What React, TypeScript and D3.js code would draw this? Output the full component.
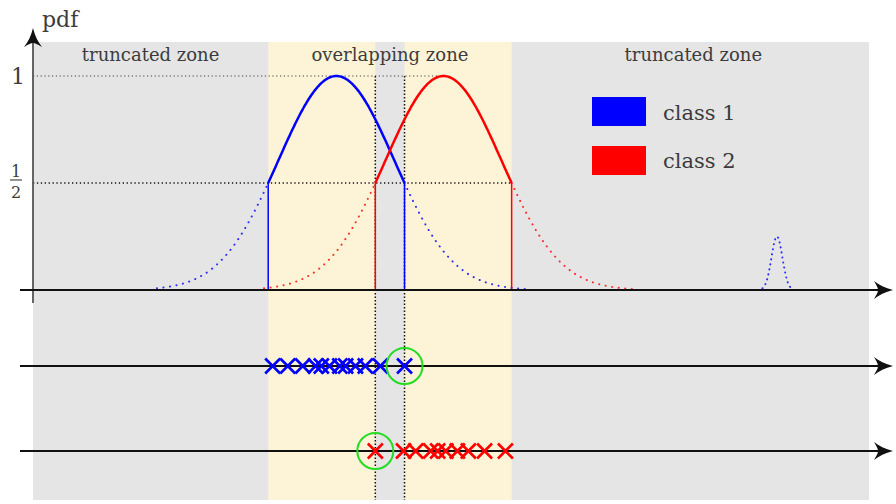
import React from "react";
import * as d3 from "d3";

// Two truncated Gaussian class densities (unit sigma), plus a narrow far bump
const classMeans = [0, 1.85];
const sigma = 1;
const halfMaxWidth = Math.sqrt(2 * Math.log(2)); // truncation at pdf = 1/2
const bumpCenter = 7.61;
const bumpSigma = 0.095;
const bumpPeak = 0.25;

// Sample positions drawn for each class
const class1Samples = [-1.1, -0.84, -0.58, -0.36, -0.26, -0.12, 0.06, 0.16, 0.33, 0.5, 0.76, 1.1774];
const class2Samples = [0.6726, 1.16, 1.37, 1.63, 1.75, 1.89, 2.09, 2.28, 2.56, 2.92];

const yTicks = [1, 0.5];
const legendItems = ["class 1", "class 2"];
const classColors = ["#0000ff", "#ff0000"];
const zoneLabels = ["truncated zone", "overlapping zone", "truncated zone"];

const W = 896;
const H = 504;
const FONT = "DejaVu Serif";
const INK = "#3c3c3c";

const x = d3.scaleLinear().domain([-5.24, 9.2]).range([33, 869]);
const y = d3.scaleLinear().domain([0, 1]).range([290, 76]);

const gauss = (v: number, mu: number, s: number, peak = 1) =>
  peak * Math.exp(-((v - mu) ** 2) / (2 * s * s));

const line = d3
  .line<[number, number]>()
  .x((d) => x(d[0]))
  .y((d) => y(d[1]));

function sampleCurve(a: number, b: number, mu: number, s: number, peak = 1, n = 120) {
  return d3.range(n + 1).map((i) => {
    const v = a + ((b - a) * i) / n;
    return [v, gauss(v, mu, s, peak)] as [number, number];
  });
}

function arrowRight(tipX: number, cy: number) {
  return `M${tipX},${cy} C${tipX - 8},${cy - 2} ${tipX - 14},${cy - 5} ${tipX - 19},${cy - 9}
    C${tipX - 16},${cy - 4} ${tipX - 15},${cy - 2} ${tipX - 15},${cy}
    C${tipX - 15},${cy + 2} ${tipX - 16},${cy + 4} ${tipX - 19},${cy + 9}
    C${tipX - 14},${cy + 5} ${tipX - 8},${cy + 2} ${tipX},${cy} Z`;
}

function arrowUp(cx: number, tipY: number) {
  return `M${cx},${tipY} C${cx - 2},${tipY + 8} ${cx - 5},${tipY + 14} ${cx - 9},${tipY + 19}
    C${cx - 4},${tipY + 16} ${cx - 2},${tipY + 15} ${cx},${tipY + 15}
    C${cx + 2},${tipY + 15} ${cx + 4},${tipY + 16} ${cx + 9},${tipY + 19}
    C${cx + 5},${tipY + 14} ${cx + 2},${tipY + 8} ${cx},${tipY} Z`;
}

function Cross({ cx, cy, color }: { cx: number; cy: number; color: string }) {
  const r = 7.5;
  return (
    <path
      d={`M${cx - r},${cy - r}L${cx + r},${cy + r}M${cx - r},${cy + r}L${cx + r},${cy - r}`}
      stroke={color}
      strokeWidth={2.6}
      fill="none"
    />
  );
}

export default function App() {
  const bounds = classMeans.map((m) => [m - halfMaxWidth * sigma, m + halfMaxWidth * sigma]);
  const [b1, b2] = bounds;
  const top = 42;
  const bottom = 500;
  const rowY = [290, 366, 451];

  return (
    <svg width={W} height={H} style={{ position: "absolute", left: 0, top: 0 }}>
      {/* zone backgrounds */}
      <rect x={x.range()[0]} y={top} width={x.range()[1] - x.range()[0]} height={bottom - top} fill="#e5e5e5" />
      <rect x={x(b1[0])} y={top} width={x(b2[0]) - x(b1[0])} height={bottom - top} fill="#fdf3d6" />
      <rect x={x(b1[1])} y={top} width={x(b2[1]) - x(b1[1])} height={bottom - top} fill="#fdf3d6" />

      {/* zone labels */}
      {[
        (x.range()[0] + x(b1[0])) / 2,
        (x(b1[0]) + x(b2[1])) / 2,
        (x(b2[1]) + x.range()[1]) / 2 + 3,
      ].map((cx, i) => (
        <text key={i} x={cx} y={61} textAnchor="middle" fontFamily={FONT} fontSize={18} fill={INK}>
          {zoneLabels[i]}
        </text>
      ))}

      {/* reference levels */}
      <line x1={x.range()[0]} x2={x(classMeans[1])} y1={y(1)} y2={y(1)} stroke="#444" strokeWidth={1.2} strokeDasharray="1.2 2.6" />
      <line x1={x.range()[0]} x2={x(b2[1])} y1={y(0.5)} y2={y(0.5)} stroke="#111" strokeWidth={1.3} strokeDasharray="1.3 2.6" />
      <line x1={x(b2[0])} x2={x(b2[0])} y1={y(1)} y2={bottom} stroke="#111" strokeWidth={1.5} strokeDasharray="1.5 2" />
      <line x1={x(b1[1])} x2={x(b1[1])} y1={y(1)} y2={bottom} stroke="#111" strokeWidth={1.5} strokeDasharray="1.5 2" />

      {/* dotted tails */}
      {classMeans.map((m, i) => (
        <g key={i} stroke={classColors[i]} strokeWidth={2} strokeLinecap="round" strokeDasharray="0.1 6.5" fill="none" opacity={0.8}>
          <path d={line(sampleCurve(m - 3.1, bounds[i][0], m, sigma))!} />
          <path d={line(sampleCurve(bounds[i][1], m + 3.3, m, sigma))!} />
        </g>
      ))}
      <path
        d={line(sampleCurve(bumpCenter - 0.25, bumpCenter + 0.25, bumpCenter, bumpSigma, bumpPeak, 80))!}
        stroke={classColors[0]}
        strokeWidth={2}
        strokeLinecap="round"
        strokeDasharray="0.1 5"
        fill="none"
        opacity={0.8}
      />

      {/* truncated densities */}
      {classMeans.map((m, i) => (
        <g key={i}>
          <line x1={x(bounds[i][0])} x2={x(bounds[i][0])} y1={y(0)} y2={y(0.5)} stroke={classColors[i]} strokeWidth={1.5} />
          <line x1={x(bounds[i][1])} x2={x(bounds[i][1])} y1={y(0)} y2={y(0.5)} stroke={classColors[i]} strokeWidth={1.5} />
          <path d={line(sampleCurve(bounds[i][0], bounds[i][1], m, sigma))!} stroke={classColors[i]} strokeWidth={2.5} fill="none" />
        </g>
      ))}

      {/* axes */}
      <line x1={33} x2={33} y1={303} y2={36} stroke="#555" strokeWidth={1.8} />
      <path d={arrowUp(33, 28)} fill="#111" />
      {rowY.map((ry) => (
        <g key={ry}>
          <line x1={20} x2={882} y1={ry} y2={ry} stroke="#111" strokeWidth={1.8} />
          <path d={arrowRight(893, ry)} fill="#111" />
        </g>
      ))}

      <text x={42} y={27} fontFamily={FONT} fontSize={22} fill={INK}>pdf</text>
      <text x={18} y={y(yTicks[0]) + 8} textAnchor="middle" fontFamily={FONT} fontSize={22} fill={INK}>1</text>
      <g fontFamily={FONT} fontSize={16} fill={INK} textAnchor="middle">
        <text x={16} y={177}>1</text>
        <line x1={10} x2={22} y1={y(yTicks[1]) - 3} y2={y(yTicks[1]) - 3} stroke={INK} strokeWidth={1.1} />
        <text x={16} y={198}>2</text>
      </g>

      {/* samples */}
      {class1Samples.map((v, i) => (
        <Cross key={i} cx={x(v)} cy={rowY[1]} color={classColors[0]} />
      ))}
      {class2Samples.map((v, i) => (
        <Cross key={i} cx={x(v)} cy={rowY[2]} color={classColors[1]} />
      ))}
      <circle cx={x(class1Samples[class1Samples.length - 1])} cy={rowY[1]} r={18} fill="none" stroke="#22dd22" strokeWidth={2} />
      <circle cx={x(class2Samples[0])} cy={rowY[2]} r={18} fill="none" stroke="#22dd22" strokeWidth={2} />

      {/* legend */}
      {legendItems.map((label, i) => (
        <g key={label}>
          <rect x={592} y={97 + i * 49} width={54} height={29} fill={classColors[i]} />
          <text x={663} y={120 + i * 48} fontFamily={FONT} fontSize={21} fill={INK}>{label}</text>
        </g>
      ))}
    </svg>
  );
}
